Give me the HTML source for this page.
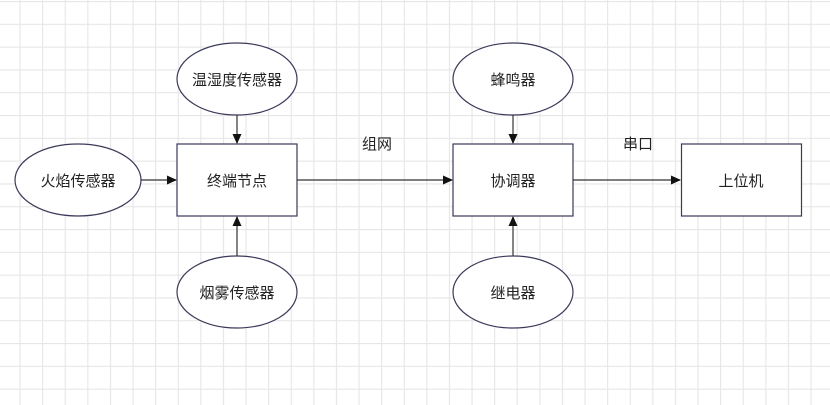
<!DOCTYPE html>
<html><head><meta charset="utf-8"><style>
html,body{margin:0;padding:0;background:#fff}
svg{display:block}
text{font-family:"Liberation Sans","Noto Sans CJK SC",sans-serif;font-size:15px;fill:#222}
</style></head><body>
<svg width="830" height="405" viewBox="0 0 830 405" xmlns="http://www.w3.org/2000/svg">
<defs>
<pattern id="g" x="19.5" y="1" width="22.6" height="22.8" patternUnits="userSpaceOnUse">
<path d="M0.5 0V22.8M0 0.5H22.6" stroke="#e6e6e6" stroke-width="1.2" fill="none"/>
</pattern>
<marker id="a" markerWidth="10" markerHeight="10" refX="9" refY="5" orient="auto" markerUnits="userSpaceOnUse">
<path d="M0,0.5 L10,5 L0,9.5 Z" fill="#111"/>
</marker>
</defs>
<rect width="830" height="405" fill="url(#g)"/>
<g stroke="#3a3a5a" stroke-width="1.2" fill="#fff">
<ellipse cx="78" cy="180" rx="63" ry="36"/>
<ellipse cx="237" cy="79" rx="60" ry="36"/>
<ellipse cx="237" cy="292" rx="60" ry="36"/>
<ellipse cx="513" cy="79" rx="60" ry="36"/>
<ellipse cx="513" cy="292" rx="60" ry="36"/>
<rect x="177" y="144" width="120" height="72"/>
<rect x="453" y="144" width="120" height="72"/>
<rect x="681.5" y="144" width="120" height="72"/>
</g>
<g stroke="#333" stroke-width="1.2" marker-end="url(#a)">
<line x1="141" y1="180" x2="176" y2="180"/>
<line x1="297" y1="180" x2="452" y2="180"/>
<line x1="573" y1="180" x2="680" y2="180"/>
<line x1="237" y1="115" x2="237" y2="143"/>
<line x1="237" y1="256" x2="237" y2="217"/>
<line x1="513" y1="115" x2="513" y2="143"/>
<line x1="513" y1="256" x2="513" y2="217"/>
</g>
<g text-anchor="middle">
<text x="78" y="186">火焰传感器</text>
<text x="237" y="85">温湿度传感器</text>
<text x="237" y="298">烟雾传感器</text>
<text x="237" y="186">终端节点</text>
<text x="513" y="85">蜂鸣器</text>
<text x="513" y="298">继电器</text>
<text x="513" y="186">协调器</text>
<text x="741" y="186">上位机</text>
<text x="377" y="149">组网</text>
<text x="638" y="149">串口</text>
</g>
</svg>
</body></html>
